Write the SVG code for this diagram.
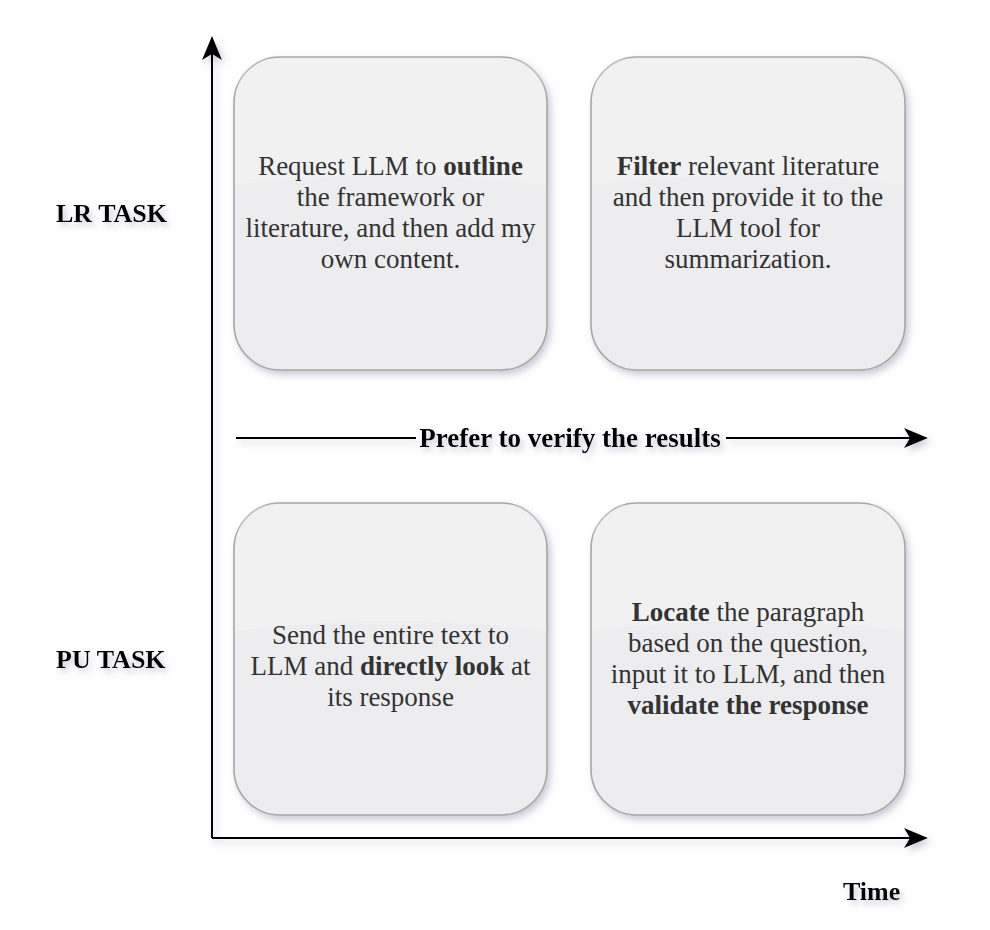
<svg xmlns="http://www.w3.org/2000/svg" width="990" height="930" viewBox="0 0 990 930">
<defs>
  <filter id="sh" x="-20%" y="-20%" width="140%" height="140%">
    <feDropShadow dx="3" dy="4" stdDeviation="3.5" flood-color="#8a8aa8" flood-opacity="0.45"/>
  </filter>
  <filter id="tsh" x="-20%" y="-40%" width="140%" height="180%">
    <feDropShadow dx="3" dy="4" stdDeviation="3" flood-color="#8a8aa8" flood-opacity="0.45"/>
  </filter>
  <marker id="ah" viewBox="0 0 24 20" refX="22" refY="10" markerWidth="24" markerHeight="20" markerUnits="userSpaceOnUse" orient="auto">
    <path d="M0,0 L24,10 L0,20 L6,10 Z" fill="#000"/>
  </marker>
</defs>
<style>
  .box { fill: #ededef; stroke: #a8a8a8; stroke-width: 1.6; }
  .gloss { fill: #ffffff; fill-opacity: 0.22; }
  .t { font-family: "Liberation Serif", "Times New Roman", serif; font-size: 27px; fill: #333333; text-anchor: middle; }
  .b { font-weight: bold; }
  .lab { font-family: "Liberation Serif", "Times New Roman", serif; font-size: 26px; font-weight: bold; fill: #000; }
  .ax { stroke: #000; stroke-width: 2; fill: none; }
</style>
<rect width="990" height="930" fill="#fff"/>

<g id="connectors" filter="url(#sh)">
  <line class="ax" x1="212" y1="838" x2="212" y2="38" marker-end="url(#ah)"/>
  <line class="ax" x1="212" y1="838" x2="926" y2="838" marker-end="url(#ah)"/>
  <line class="ax" x1="236" y1="438" x2="416" y2="438"/>
  <line class="ax" x1="726" y1="438" x2="926" y2="438" marker-end="url(#ah)"/>
</g>

<g id="verify-label" filter="url(#tsh)">
  <text class="lab" x="570" y="447" text-anchor="middle" style="font-size:27px">Prefer to verify the results</text>
</g>

<g id="lr-label" filter="url(#tsh)">
  <text class="lab" x="56" y="222">LR TASK</text>
</g>
<g id="pu-label" filter="url(#tsh)">
  <text class="lab" x="56" y="668">PU TASK</text>
</g>
<g id="time-label" filter="url(#tsh)">
  <text class="lab" x="843" y="900">Time</text>
</g>

<g id="box-lr-1">
  <rect class="box" x="234" y="57" width="313" height="313" rx="46" ry="46" filter="url(#sh)"/>
  <path class="gloss" d="M235,185 L235,103 Q235,58 280,58 L501,58 Q546,58 546,103 L546,185 Q390,165 235,185 Z"/>
  <text class="t" x="390.5" y="175">Request LLM to <tspan class="b">outline</tspan></text>
  <text class="t" x="390.5" y="206">the framework or</text>
  <text class="t" x="390.5" y="237">literature, and then add my</text>
  <text class="t" x="390.5" y="268">own content.</text>
</g>

<g id="box-lr-2">
  <rect class="box" x="591" y="57" width="314" height="313" rx="46" ry="46" filter="url(#sh)"/>
  <path class="gloss" d="M592,185 L592,103 Q592,58 637,58 L859,58 Q904,58 904,103 L904,185 Q748,165 592,185 Z"/>
  <text class="t" x="748" y="175"><tspan class="b">Filter</tspan> relevant literature</text>
  <text class="t" x="748" y="206">and then provide it to the</text>
  <text class="t" x="748" y="237">LLM tool for</text>
  <text class="t" x="748" y="268">summarization.</text>
</g>

<g id="box-pu-1">
  <rect class="box" x="234" y="503" width="313" height="312" rx="46" ry="46" filter="url(#sh)"/>
  <path class="gloss" d="M235,631 L235,549 Q235,504 280,504 L501,504 Q546,504 546,549 L546,631 Q390,611 235,631 Z"/>
  <text class="t" x="390.5" y="644">Send the entire text to</text>
  <text class="t" x="390.5" y="675">LLM and <tspan class="b">directly look</tspan> at</text>
  <text class="t" x="390.5" y="706">its response</text>
</g>

<g id="box-pu-2">
  <rect class="box" x="591" y="503" width="314" height="312" rx="46" ry="46" filter="url(#sh)"/>
  <path class="gloss" d="M592,631 L592,549 Q592,504 637,504 L859,504 Q904,504 904,549 L904,631 Q748,611 592,631 Z"/>
  <text class="t" x="748" y="621"><tspan class="b">Locate</tspan> the paragraph</text>
  <text class="t" x="748" y="652">based on the question,</text>
  <text class="t" x="748" y="683">input it to LLM, and then</text>
  <text class="t" x="748" y="714"><tspan class="b">validate the response</tspan></text>
</g>
</svg>
